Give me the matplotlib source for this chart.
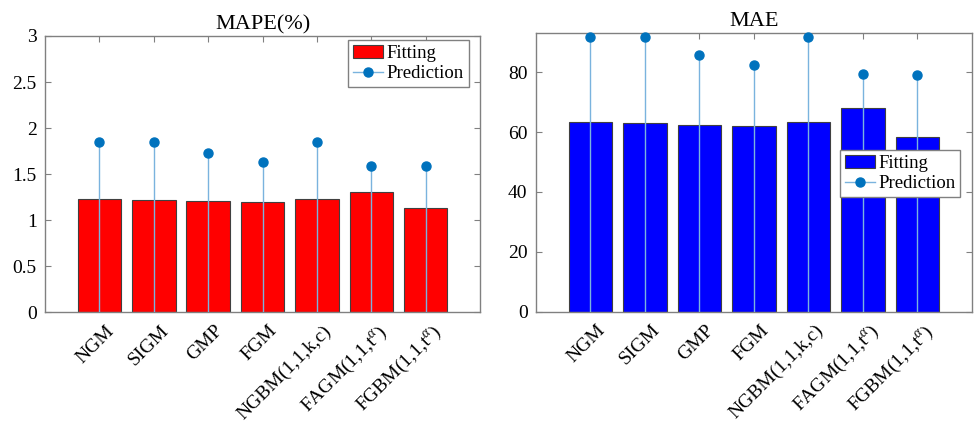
import matplotlib
import matplotlib.pyplot as plt
import matplotlib.transforms as mtransforms
from matplotlib.legend_handler import HandlerLine2D
import numpy as np

matplotlib.use('Agg')

plt.rcParams['font.family'] = ['Liberation Serif', 'DejaVu Serif']
plt.rcParams['mathtext.fontset'] = 'custom'
plt.rcParams['mathtext.rm'] = 'Liberation Serif'
plt.rcParams['mathtext.it'] = 'Liberation Serif:italic'

models = ['NGM', 'SIGM', 'GMP', 'FGM', 'NGBM(1,1,k,c)',
          'FAGM(1,1,t$^{\\alpha}$)', 'FGBM(1,1,t$^{\\alpha}$)']

mape_fit = [1.23, 1.215, 1.205, 1.193, 1.23, 1.306, 1.135]
mape_pred = [1.848, 1.845, 1.725, 1.634, 1.848, 1.591, 1.588]

mae_fit = [63.4, 62.9, 62.3, 62.1, 63.4, 67.9, 58.3]
mae_pred = [91.9, 91.7, 85.9, 82.5, 91.9, 79.4, 79.2]

AXIS_GRAY = '#808080'
STEM_LINE = '#7ab3de'
STEM_DOT = '#0072BD'


class StemHandler(HandlerLine2D):
    # draw the marker near the right end of the legend line, like a stem
    def get_xdata(self, legend, xdescent, ydescent, width, height, fontsize):
        xdata = np.array([-xdescent, -xdescent + width])
        return xdata, np.array([-xdescent + 0.8 * width])


def draw_panel(fig, ax, fit, pred, bar_color, title, ylim, yticks, legend_xy):
    x = np.arange(1, len(models) + 1)
    bars = ax.bar(x, fit, width=0.8, color=bar_color, edgecolor='#404040',
                  linewidth=0.8, zorder=2, label='Fitting')
    ax.vlines(x, 0, pred, color=STEM_LINE, linewidth=1.0, zorder=3)
    ax.plot(x, pred, 'o', color=STEM_DOT, markersize=6.5, zorder=4,
            clip_on=False)
    stem_handle = plt.Line2D([], [], color=STEM_LINE, linewidth=1.0,
                             marker='o', markersize=6.5,
                             markerfacecolor=STEM_DOT, markeredgecolor=STEM_DOT)

    ax.set_xlim(0, len(models) + 1)
    ax.set_ylim(*ylim)
    ax.set_yticks(yticks)
    ax.set_yticklabels([('%g' % t) for t in yticks])
    ax.set_xticks(x)
    ax.set_title(title, fontsize=16, pad=5)

    for s in ax.spines.values():
        s.set_color(AXIS_GRAY)
        s.set_linewidth(1.0)
    ax.tick_params(direction='in', length=4, width=0.8, color=AXIS_GRAY,
                   top=True, right=True, labelsize=14, pad=6)
    ax.tick_params(axis='x', pad=7)

    ax.set_xticklabels(models, rotation=45, ha='right', rotation_mode='anchor')
    # nudge the slanted labels a little to the right
    shift = mtransforms.ScaledTranslation(6 / 100, 0, fig.dpi_scale_trans)
    for lbl in ax.get_xticklabels():
        lbl.set_transform(lbl.get_transform() + shift)

    leg = ax.legend([bars, stem_handle], ['Fitting', 'Prediction'],
                    loc='upper left', bbox_to_anchor=legend_xy,
                    fontsize=13.5, fancybox=False, framealpha=1,
                    edgecolor=AXIS_GRAY, handlelength=1.6, handleheight=0.75,
                    handletextpad=0.2, borderpad=0.25, labelspacing=0.15,
                    borderaxespad=0,
                    handler_map={stem_handle: StemHandler()})
    leg.get_frame().set_linewidth(1.0)
    leg.set_zorder(10)


fig = plt.figure(figsize=(9.75, 4.23), dpi=100)
ax1 = fig.add_axes([0.0462, 0.2617, 0.4462, 0.6532])
ax2 = fig.add_axes([0.5497, 0.2631, 0.4472, 0.6582])

draw_panel(fig, ax1, mape_fit, mape_pred, '#ff0000', 'MAPE(%)', (0, 3),
           [0, 0.5, 1, 1.5, 2, 2.5, 3], (0.697, 0.9855))
draw_panel(fig, ax2, mae_fit, mae_pred, '#0000ff', 'MAE', (0, 93),
           [0, 20, 40, 60, 80], (0.697, 0.581))

fig.savefig('out.png', dpi=100)
